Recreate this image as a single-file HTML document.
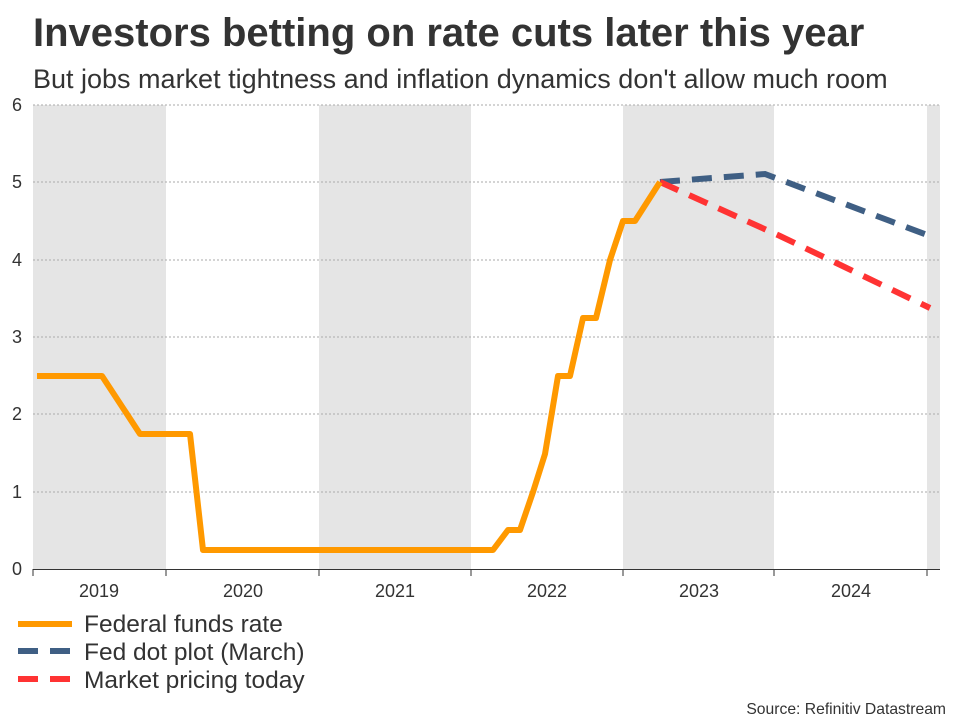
<!DOCTYPE html>
<html><head><meta charset="utf-8"><style>
body{margin:0;background:#fff;width:960px;height:720px;overflow:hidden;font-family:"Liberation Sans",sans-serif}
</style></head><body>
<svg width="960" height="720" xmlns="http://www.w3.org/2000/svg" font-family="Liberation Sans, sans-serif">
<text x="33" y="46" font-size="40" font-weight="bold" fill="#333">Investors betting on rate cuts later this year</text>
<text x="33" y="88" font-size="27" fill="#333">But jobs market tightness and inflation dynamics don't allow much room</text>
<rect x="33" y="105" width="133" height="464" fill="#e5e5e5"/>
<rect x="319" y="105" width="152" height="464" fill="#e5e5e5"/>
<rect x="623" y="105" width="151" height="464" fill="#e5e5e5"/>
<rect x="927" y="105" width="13" height="464" fill="#e5e5e5"/>
<g stroke="#aaa" stroke-dasharray="2,2" stroke-width="1">
<line x1="33" x2="940" y1="105" y2="105"/><line x1="33" x2="940" y1="182" y2="182"/>
<line x1="33" x2="940" y1="260" y2="260"/><line x1="33" x2="940" y1="337" y2="337"/>
<line x1="33" x2="940" y1="414" y2="414"/><line x1="33" x2="940" y1="492" y2="492"/>
</g>
<line x1="33" x2="940" y1="569.5" y2="569.5" stroke="#333"/>
<g stroke="#333"><line x1="33" x2="33" y1="569" y2="576"/><line x1="166" x2="166" y1="569" y2="576"/><line x1="319" x2="319" y1="569" y2="576"/><line x1="471" x2="471" y1="569" y2="576"/><line x1="623" x2="623" y1="569" y2="576"/><line x1="774" x2="774" y1="569" y2="576"/><line x1="927" x2="927" y1="569" y2="576"/></g>
<g font-size="18" fill="#333" text-anchor="end">
<text x="22" y="111">6</text><text x="22" y="188">5</text><text x="22" y="266">4</text><text x="22" y="343">3</text><text x="22" y="420">2</text><text x="22" y="498">1</text><text x="22" y="575">0</text>
</g>
<g font-size="18" fill="#333" text-anchor="middle">
<text x="99" y="597">2019</text><text x="243" y="597">2020</text><text x="395" y="597">2021</text><text x="547" y="597">2022</text><text x="699" y="597">2023</text><text x="851" y="597">2024</text>
</g>
<polyline fill="none" stroke="#3f5f84" stroke-width="6" stroke-dasharray="20,12" points="660,182 765,174 930,236"/>
<polyline fill="none" stroke="#f33" stroke-width="6" stroke-dasharray="20,12" points="660,182 780,236 930,308"/>
<polyline fill="none" stroke="#f90" stroke-width="6" stroke-linejoin="round" points="37,376 102,376 140,434 190,434 203,550 493,550 508,530 520,530 533,492 545,454 558,376 570,376 583,318 596,318 610,260 623,221 635,221 660,182"/>
<line x1="18" x2="72" y1="624" y2="624" stroke="#f90" stroke-width="6"/>
<line x1="18" x2="72" y1="651" y2="651" stroke="#3f5f84" stroke-width="6" stroke-dasharray="20,12"/>
<line x1="18" x2="72" y1="679" y2="679" stroke="#f33" stroke-width="6" stroke-dasharray="20,12"/>
<g font-size="24.5" fill="#333"><text x="84" y="632">Federal funds rate</text><text x="84" y="660">Fed dot plot (March)</text><text x="84" y="688">Market pricing today</text></g>
<text x="946" y="714" font-size="15.7" fill="#333" text-anchor="end">Source: Refinitiv Datastream</text>
</svg>
</body></html>
